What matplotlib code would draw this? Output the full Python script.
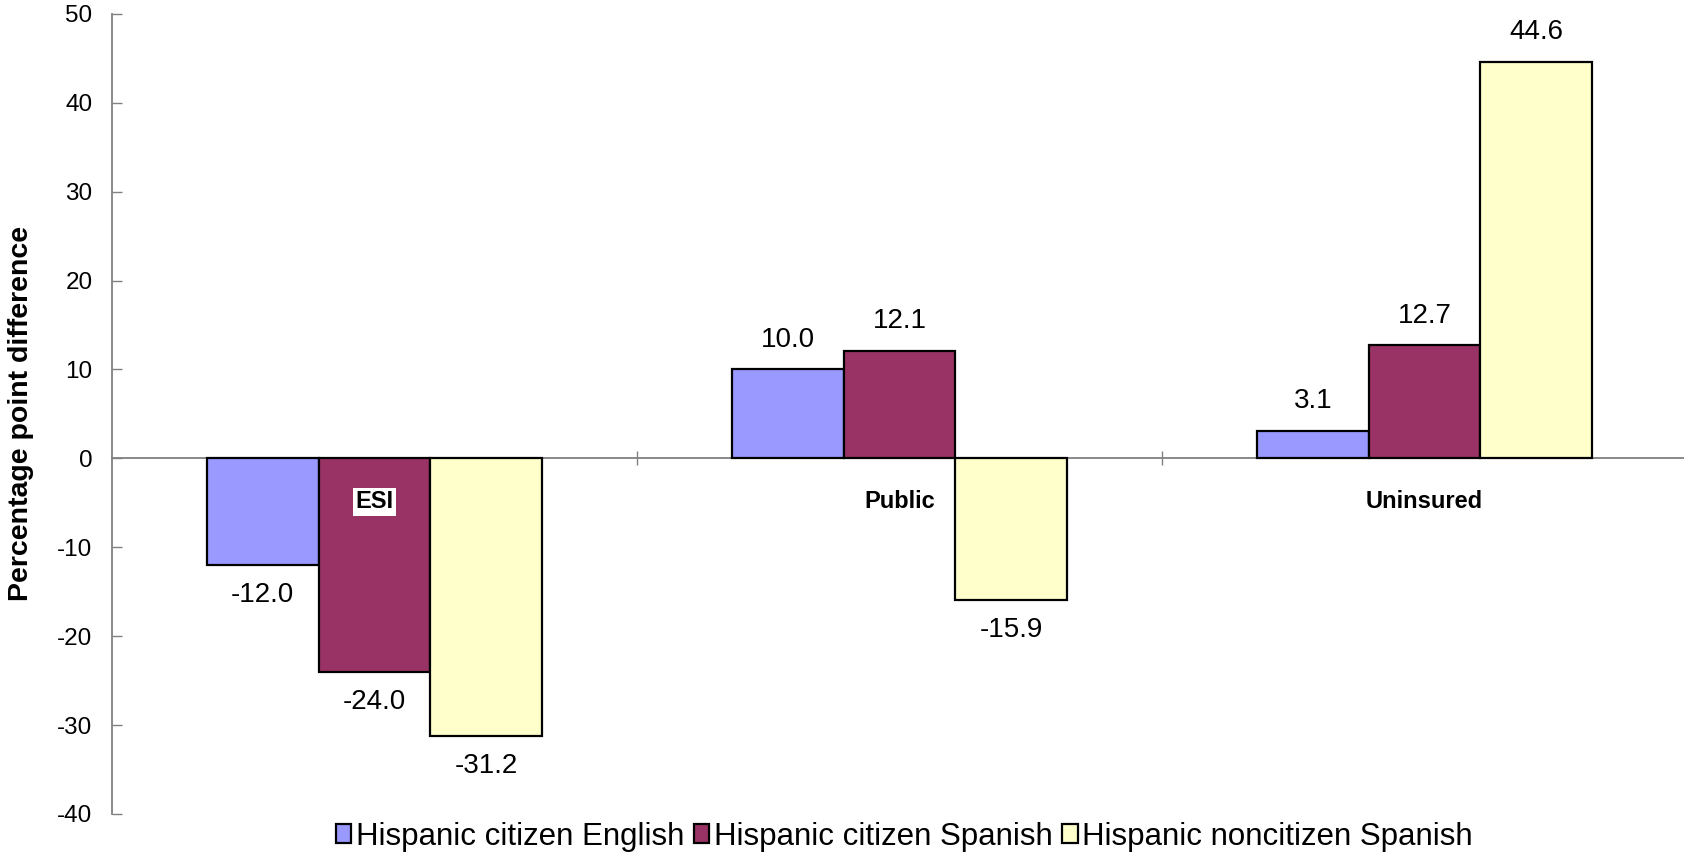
import numpy as np
import matplotlib.pyplot as plt

plt.rcParams['font.family'] = ['Liberation Sans', 'DejaVu Sans']

categories = ['ESI', 'Public', 'Uninsured']
series_names = ['Hispanic citizen English', 'Hispanic citizen Spanish', 'Hispanic noncitizen Spanish']
citizen_english = [-12.0, 10.0, 3.1]
citizen_spanish = [-24.0, 12.1, 12.7]
noncitizen_spanish = [-31.2, -15.9, 44.6]
y_ticks = [-40, -30, -20, -10, 0, 10, 20, 30, 40, 50]

colors = ['#9999FF', '#993366', '#FFFFCC']
series = [citizen_english, citizen_spanish, noncitizen_spanish]

fig = plt.figure(figsize=(16.84, 8.61), dpi=100)
ax = fig.add_axes([0.0665, 0.0546, 0.9353, 0.9294])

x = np.arange(len(categories))
width = 0.2127
for i, (vals, col, name) in enumerate(zip(series, colors, series_names)):
    pos = x + (i - 1) * width
    ax.bar(pos, vals, width, color=col, edgecolor='black', linewidth=1.6,
           label=name, zorder=3)
    for xp, v in zip(pos, vals):
        off = 3.3 if v >= 0 else -3.4
        ax.text(xp, v + off, f'{v:.1f}', ha='center', va='center',
                fontsize=20, color='black', zorder=4)

# category names sit just under the zero line
for xi, cat in zip(x, categories):
    ax.text(xi, -4.9, cat, ha='center', va='center', fontsize=17,
            fontweight='bold', zorder=5,
            bbox=dict(facecolor='white', edgecolor='none', pad=2))

ax.set_ylim(-40, 50)
ax.set_xlim(-0.5, 2.5)
ax.set_yticks(y_ticks)
ax.set_yticklabels([str(t) for t in y_ticks], fontsize=17.5)
ax.set_ylabel('Percentage point difference', fontsize=20.5, fontweight='bold')
ax.yaxis.set_label_coords(-0.0495, 0.5)

ax.spines['top'].set_visible(False)
ax.spines['right'].set_visible(False)
ax.spines['left'].set_color('#808080')
ax.spines['left'].set_linewidth(1.3)
ax.spines['bottom'].set_position(('data', 0))
ax.spines['bottom'].set_color('#808080')
ax.spines['bottom'].set_linewidth(1.3)
ax.spines['bottom'].set_zorder(2)

ax.set_xticks([0.5, 1.5])
ax.set_xticklabels([])
ax.tick_params(axis='x', direction='inout', length=10, color='#808080', width=1.0)
ax.tick_params(axis='y', direction='in', length=7, color='#808080', width=1.0, pad=14)

fig.legend(loc='center', bbox_to_anchor=(0.537, 0.028), ncol=3, frameon=False,
           fontsize=22.5, handlelength=0.5, handleheight=0.55, handletextpad=0.15,
           columnspacing=0.3, borderpad=0)

fig.savefig('out.png', dpi=100)
